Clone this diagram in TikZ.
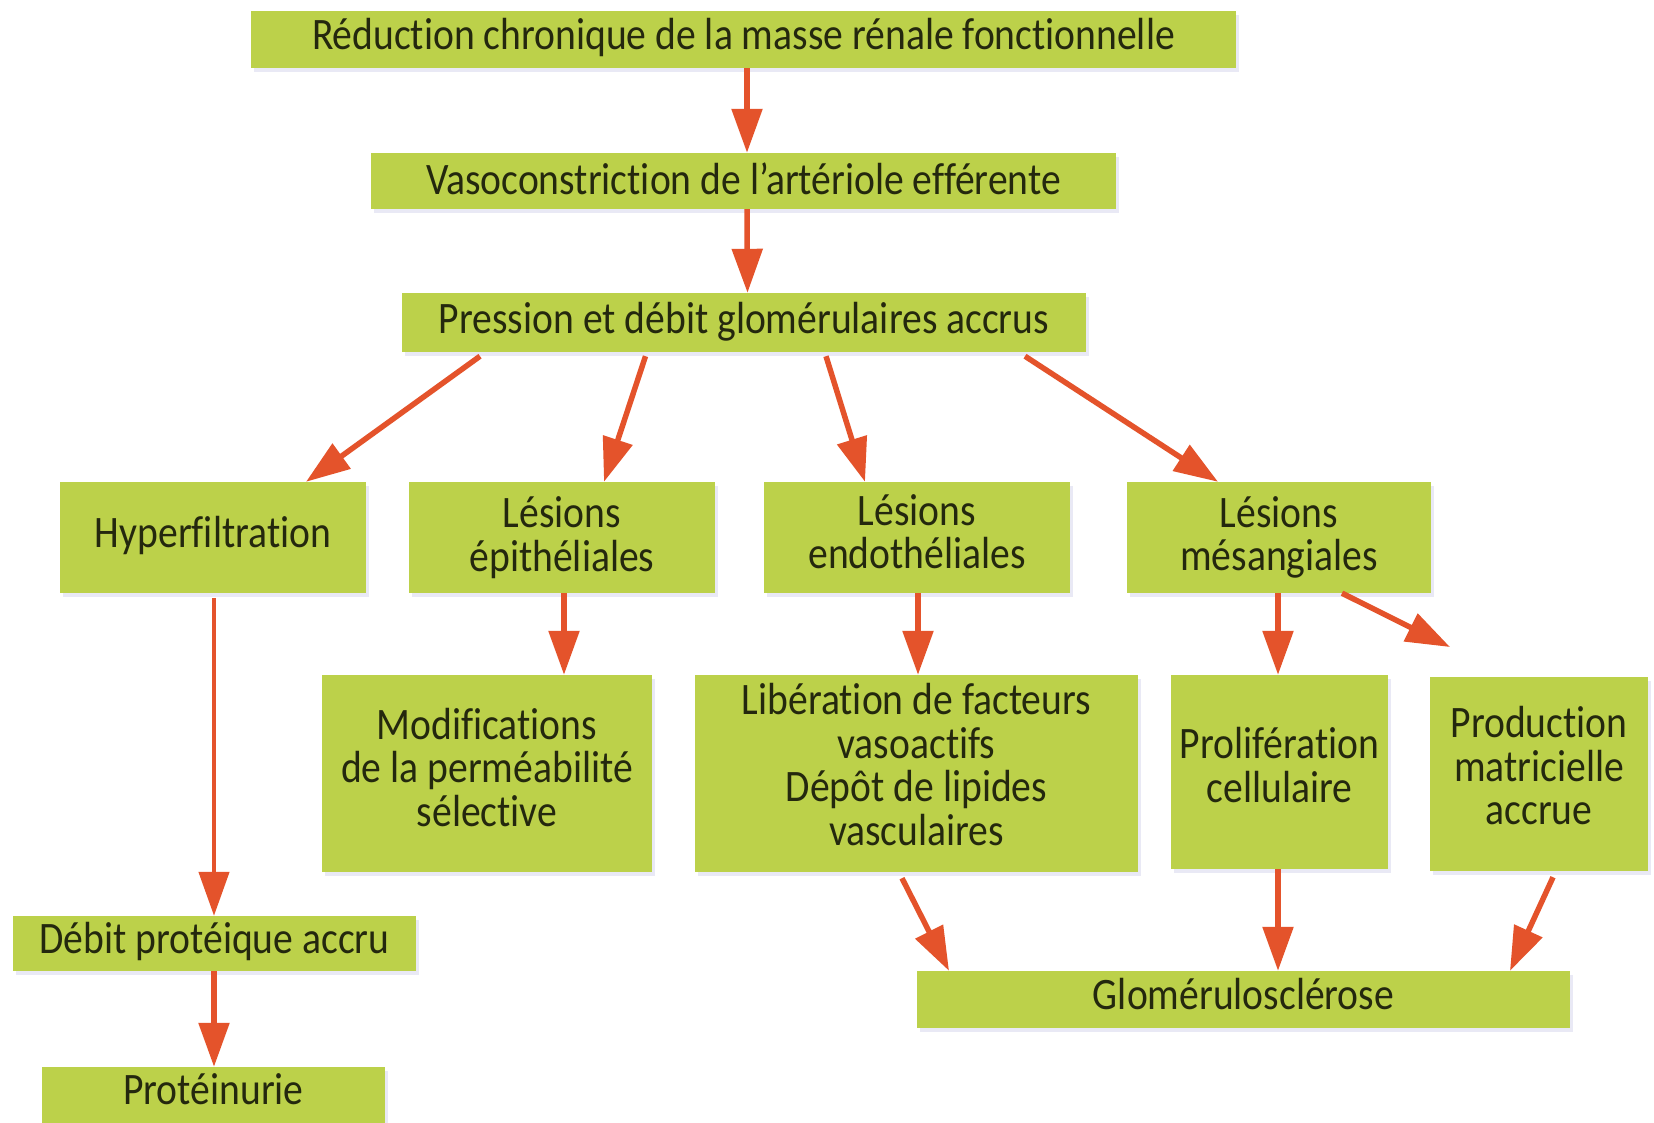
\documentclass[tikz,border=0pt]{standalone}
\usepackage{fontspec}
\setmainfont{Carlito}[FakeStretch=0.88, Ligatures=NoCommon]
\usetikzlibrary{arrows.meta,shadows}
\definecolor{boxg}{RGB}{188,209,74}
\definecolor{arrc}{RGB}{228,83,43}
\definecolor{txtc}{RGB}{36,40,14}
\begin{document}
\begin{tikzpicture}[x=1pt,y=-1pt,
  box/.style={rectangle, fill=boxg, inner sep=0pt,
    drop shadow={opacity=0.12, shadow xshift=3pt, shadow yshift=-4pt, fill=blue!40!gray}},
  lab/.style={text=txtc, inner sep=0pt, align=center,
    font=\fontsize{45pt}{43.5pt}\selectfont},
  arrow/.style={draw=arrc, line width=5.5pt, -{Triangle[length=44pt,width=30pt]}}]
\fill[white] (0,0) rectangle (1654,1122);
\useasboundingbox (0,0) rectangle (1654,1122);

\node[box, minimum width=985pt, minimum height=57pt, label={[lab, name=top-t, yshift=2pt]center:Réduction chronique de la masse rénale fonctionnelle}] (top) at (743.5,39.5) {};
\node[box, minimum width=745pt, minimum height=56pt, label={[lab, name=va-t, yshift=2pt]center:Vasoconstriction de l’artériole efférente}] (va) at (743.5,181) {};
\node[box, minimum width=684pt, minimum height=59pt, label={[lab, name=pr-t, yshift=1pt]center:Pression et débit glomérulaires accrus}] (pr) at (744,322.5) {};

\node[box, minimum width=306pt, minimum height=111pt, label={[lab, name=hy-t, yshift=2pt]center:Hyperfiltration}] (hy) at (213,537.5) {};
\node[box, minimum width=306pt, minimum height=111pt, label={[lab, name=ep-t]center:Lésions\\épithéliales}] (ep) at (562,537.5) {};
\node[box, minimum width=306pt, minimum height=111pt, label={[lab, name=en-t, yshift=6pt]center:Lésions\\endothéliales}] (en) at (917,537.5) {};
\node[box, minimum width=304pt, minimum height=111pt, label={[lab, name=ms-t]center:Lésions\\mésangiales}] (ms) at (1279,537.5) {};

\node[box, minimum width=330pt, minimum height=197pt, label={[lab, name=mo-t, yshift=6pt]center:Modifications\\de la perméabilité\\sélective}] (mo) at (487,773.5) {};
\node[box, minimum width=443pt, minimum height=197pt, label={[lab, name=li-t, yshift=9pt]center:Libération de facteurs\\vasoactifs\\Dépôt de lipides\\vasculaires}] (li) at (916.5,773.5) {};
\node[box, minimum width=217pt, minimum height=194pt, label={[lab, name=pc-t, yshift=7pt]center:Prolifération\\cellulaire}] (pc) at (1279.5,772) {};
\node[box, minimum width=218pt, minimum height=194pt, label={[lab, name=pd-t, yshift=8pt]center:Production\\matricielle\\accrue}] (pd) at (1539,774) {};

\node[box, minimum width=403pt, minimum height=55pt, label={[lab, name=db-t, yshift=2pt]center:Débit protéique accru}] (db) at (214.5,943.5) {};
\node[box, minimum width=343pt, minimum height=60pt, label={[lab, name=pt-t, yshift=8pt]center:Protéinurie}] (pt) at (213.5,1097) {};
\node[box, minimum width=653pt, minimum height=57pt, label={[lab, name=gl-t, yshift=5pt]center:Glomérulosclérose}] (gl) at (1243.5,999.5) {};

\coordinate (free) at (1450,647);

\draw[arrow] ([xshift=3.5pt]top.south) -- ([xshift=3.5pt]va.north);
\draw[arrow] ([xshift=3.5pt]va.south) -- ([xshift=3.5pt]pr.north);
\draw[arrow] ([xshift=-264pt,yshift=-4pt]pr.south) -- ([xshift=93pt]hy.north);
\draw[arrow] ([xshift=-98.5pt,yshift=-4pt]pr.south) -- ([xshift=42pt]ep.north);
\draw[arrow] ([xshift=82pt,yshift=-4pt]pr.south) -- ([xshift=-52pt]en.north);
\draw[arrow] ([xshift=281pt,yshift=-4pt]pr.south) -- ([xshift=-61pt]ms.north);
\draw[arrow, line width=4.5pt] ([xshift=1pt,yshift=-5pt]hy.south) -- ([xshift=1pt]hy.south |- db.north);
\draw[arrow] ([xshift=2pt]ep.south) -- ([xshift=2pt]ep.south |- mo.north);
\draw[arrow] ([xshift=1pt]en.south) -- ([xshift=1pt]en.south |- li.north);
\draw[arrow] ([xshift=-1pt]ms.south) -- ([xshift=-1pt]ms.south |- pc.north);
\draw[arrow] ([xshift=63pt]ms.south) -- (free);
\draw[arrow] ([xshift=-0.5pt]db.south) -- ([xshift=-0.5pt]db.south |- pt.north);
\draw[arrow] ([xshift=-14.5pt,yshift=-6pt]li.south) -- ([xshift=-294.5pt]gl.north);
\draw[arrow] ([xshift=-1.5pt]pc.south) -- ([xshift=-1.5pt]pc.south |- gl.north);
\draw[arrow] ([xshift=14pt,yshift=-6pt]pd.south) -- ([xshift=266.5pt]gl.north);
\end{tikzpicture}
\end{document}
